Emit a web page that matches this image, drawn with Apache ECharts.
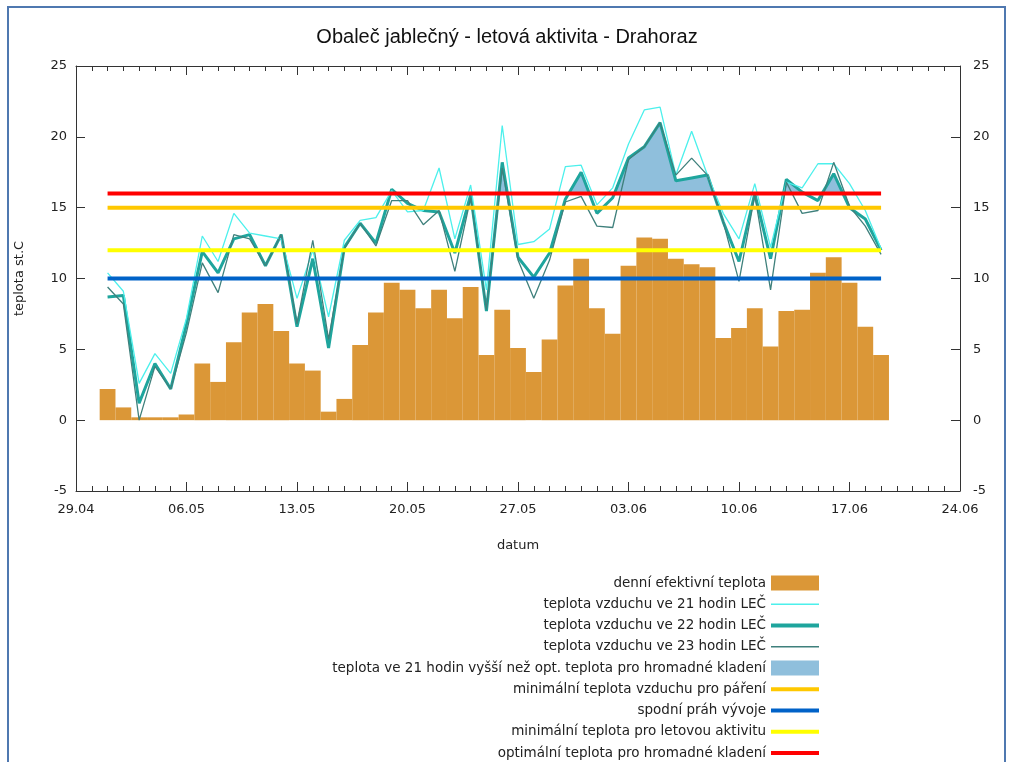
<!DOCTYPE html>
<html>
<head>
<meta charset="utf-8">
<title>Obaleč jablečný - letová aktivita - Drahoraz</title>
<script src="https://cdn.jsdelivr.net/npm/echarts@6/dist/echarts.min.js"></script>
<style>
  html, body { margin: 0; padding: 0; background: #fff; }
  #chart { width: 1014px; height: 762px; }
</style>
</head>
<body>
<div id="chart"></div>
<script>
// dny s měřením
const dates = [
  '01.05','02.05','03.05','04.05','05.05','06.05','07.05','08.05','09.05','10.05',
  '11.05','12.05','13.05','14.05','15.05','16.05','17.05','18.05','19.05','20.05',
  '21.05','22.05','23.05','24.05','25.05','26.05','27.05','28.05','29.05','30.05','31.05',
  '01.06','02.06','03.06','04.06','05.06','06.06','07.06','08.06','09.06','10.06',
  '11.06','12.06','13.06','14.06','15.06','16.06','17.06','18.06','19.06'
];
// popisky osy x (po 7 dnech od 29.04)
const xTickLabels = ['29.04','06.05','13.05','20.05','27.05','03.06','10.06','17.06','24.06'];

// denní efektivní teplota
const effTemp = [
  2.2, 0.9, 0.2, 0.2, 0.2, 0.4, 4.0, 2.7, 5.5, 7.6,
  8.2, 6.3, 4.0, 3.5, 0.6, 1.5, 5.3, 7.6, 9.7, 9.2,
  7.9, 9.2, 7.2, 9.4, 4.6, 7.8, 5.1, 3.4, 5.7, 9.5, 11.4,
  7.9, 6.1, 10.9, 12.9, 12.8, 11.4, 11.0, 10.8, 5.8, 6.5,
  7.9, 5.2, 7.7, 7.8, 10.4, 11.5, 9.7, 6.6, 4.6
];
// teplota vzduchu ve 21 h
const temp21 = [
  10.4, 9.1, 2.6, 4.7, 3.3, 7.2, 13.0, 11.2, 14.6, 13.2,
  13.0, 12.8, 8.6, 12.0, 7.3, 12.7, 14.1, 14.3, 16.2, 14.7,
  14.8, 17.8, 12.8, 16.6, 9.2, 20.8, 12.4, 12.6, 13.5, 17.9, 18.0,
  15.2, 16.4, 19.5, 21.9, 22.1, 17.3, 20.4, 17.3, 14.6, 12.8,
  16.7, 12.2, 16.8, 16.4, 18.1, 18.1, 16.7, 14.8, 12.1
];
// teplota vzduchu ve 22 h
const temp22 = [
  8.7, 8.8, 1.2, 4.0, 2.2, 6.8, 11.9, 10.4, 12.8, 13.1,
  10.9, 13.1, 6.6, 11.4, 5.1, 12.2, 13.9, 12.5, 16.3, 15.3,
  14.8, 14.7, 11.8, 15.9, 7.7, 18.2, 11.5, 10.1, 11.8, 15.6, 17.5,
  14.6, 15.7, 18.5, 19.3, 21.0, 16.9, 17.1, 17.3, 14.0, 11.2,
  16.0, 11.4, 17.0, 16.1, 15.5, 17.4, 15.0, 14.2, 12.0
];
// teplota vzduchu ve 23 h
const temp23 = [
  9.4, 8.2, 0.0, 3.8, 2.2, 6.2, 11.1, 9.0, 13.1, 12.8,
  10.9, 13.1, 6.8, 12.7, 5.7, 12.1, 13.9, 12.3, 15.5, 15.5,
  13.8, 14.8, 10.5, 15.7, 7.8, 17.8, 11.3, 8.6, 11.3, 15.4, 15.8,
  13.7, 13.6, 18.4, 19.3, 21.0, 17.3, 18.5, 17.3, 14.0, 9.8,
  15.9, 9.2, 16.8, 14.6, 14.8, 18.2, 15.1, 13.7, 11.7
];

// prahové teploty
const optLayingTemp = 16;   // optimální teplota pro hromadné kladení
const matingTemp = 15;      // minimální teplota vzduchu pro páření
const flightTemp = 12;      // minimální teplota pro letovou aktivitu
const devThreshold = 10;    // spodní práh vývoje

// den od 29.04
const dayOf = (s) => {
  const [d, m] = s.split('.').map(Number);
  if (m === 4) return d - 29;
  if (m === 5) return d + 1;
  return d + 32;
};
const xs = dates.map(dayOf);
const pairs = (vals) => vals.map((v, i) => [xs[i], v]);
const flat = (v) => [[xs[0], v], [xs[xs.length - 1], v]];

const FONT = 'DejaVu Sans';
const TXT = '#222';

const names = {
  eff: 'denní efektivní teplota',
  t21: 'teplota vzduchu ve 21 hodin LEČ',
  t22: 'teplota vzduchu ve 22 hodin LEČ',
  t23: 'teplota vzduchu ve 23 hodin LEČ',
  fill: 'teplota ve 21 hodin vyšší než opt. teplota pro hromadné kladení',
  mating: 'minimální teplota vzduchu pro páření',
  dev: 'spodní práh vývoje',
  flight: 'minimální teplota pro letovou aktivitu',
  opt: 'optimální teplota pro hromadné kladení'
};

const colors = {
  bar: '#db9737',
  t21: '#4cf0ec',
  t22: '#1ea59d',
  t23: '#3f807c',
  fill: '#8fbfdc',
  mating: '#ffc800',
  dev: '#0062c8',
  flight: '#ffff00',
  opt: '#ff0000'
};

// legenda – každá položka zvlášť, aby ikony byly zarovnané vpravo
// (ikona = obdélník, u čar s výškou podle tloušťky čáry)
const legendItems = [
  { name: names.eff, color: colors.bar, h: 15 },
  { name: names.t21, color: colors.t21, h: 1.5 },
  { name: names.t22, color: colors.t22, h: 4 },
  { name: names.t23, color: colors.t23, h: 1.5 },
  { name: names.fill, color: colors.fill, h: 15 },
  { name: names.mating, color: colors.mating, h: 4 },
  { name: names.dev, color: colors.dev, h: 4 },
  { name: names.flight, color: colors.flight, h: 4 },
  { name: names.opt, color: colors.opt, h: 4 }
];
const legends = legendItems.map((item, i) => ({
  data: [{ name: item.name, icon: 'rect', itemStyle: { color: item.color, borderWidth: 0 } }],
  orient: 'vertical',
  align: 'right',
  right: 195,
  top: 575 + i * 21.25,
  itemWidth: 48,
  itemHeight: item.h,
  padding: 0,
  selectedMode: false,
  textStyle: { fontFamily: FONT, fontSize: 13.5, lineHeight: 16, color: TXT }
}));

const axisLineStyle = { color: '#333', width: 1 };
const xAxisBase = {
  type: 'value',
  min: 0,
  max: 56,
  interval: 7,
  axisLine: { show: true, onZero: false, lineStyle: axisLineStyle },
  axisTick: { show: true, inside: true, length: 9, lineStyle: axisLineStyle },
  minorTick: { show: true, splitNumber: 7, length: 5, lineStyle: axisLineStyle },
  splitLine: { show: false }
};
const yAxisBase = {
  type: 'value',
  min: -5,
  max: 25,
  interval: 5,
  axisLine: { show: true, onZero: false, lineStyle: axisLineStyle },
  axisTick: { show: true, inside: true, length: 9, lineStyle: axisLineStyle },
  splitLine: { show: false },
  axisLabel: { fontFamily: FONT, fontSize: 13, color: TXT }
};

const chart = echarts.init(document.getElementById('chart'), null, { renderer: 'canvas' });

const option = {
  backgroundColor: '#fff',
  animation: false,
  title: {
    text: 'Obaleč jablečný - letová aktivita - Drahoraz',
    left: 'center',
    top: 22,
    textStyle: { fontFamily: 'Liberation Sans', fontSize: 20, fontWeight: 'normal', color: '#111' }
  },
  graphic: [{
    type: 'rect',
    shape: { x: 8, y: 7, width: 997, height: 770 },
    style: { fill: 'none', stroke: '#4f78b0', lineWidth: 2 },
    silent: true
  }],
  legend: legends,
  grid: { left: 76, right: 54, top: 66, bottom: 271 },
  xAxis: [
    Object.assign({}, xAxisBase, {
      position: 'bottom',
      name: 'datum',
      nameLocation: 'middle',
      nameGap: 48,
      nameTextStyle: { fontFamily: FONT, fontSize: 13, color: TXT },
      axisLabel: {
        fontFamily: FONT, fontSize: 13, color: TXT, margin: 12,
        showMinLabel: true, showMaxLabel: true,
        formatter: (v) => xTickLabels[Math.round(v / 7)] || ''
      }
    }),
    Object.assign({}, xAxisBase, {
      position: 'top',
      axisLabel: { show: false }
    })
  ],
  yAxis: [
    Object.assign({}, yAxisBase, {
      position: 'left',
      name: 'teplota st.C',
      nameLocation: 'middle',
      nameGap: 50,
      nameTextStyle: { fontFamily: FONT, fontSize: 13, color: TXT },
      axisLabel: Object.assign({}, yAxisBase.axisLabel, { margin: 9 })
    }),
    Object.assign({}, yAxisBase, {
      position: 'right',
      axisLabel: Object.assign({}, yAxisBase.axisLabel, { margin: 13 })
    })
  ],
  // výplň nad optimální teplotou – barva podle hodnoty na ose y
  visualMap: [{
    show: false,
    type: 'piecewise',
    seriesIndex: 1,
    dimension: 1,
    pieces: [
      { gte: -100, lte: optLayingTemp, color: 'rgba(143,191,220,0)' },
      { gt: optLayingTemp, lte: 100, color: colors.fill }
    ],
    outOfRange: { color: 'rgba(143,191,220,0)' }
  }],
  series: [
    {
      name: names.eff,
      type: 'bar',
      data: pairs(effTemp),
      barWidth: 15.8,
      itemStyle: { color: colors.bar },
      z: 1
    },
    {
      name: names.fill,
      type: 'line',
      data: pairs(temp22),
      symbol: 'none',
      color: colors.fill,
      lineStyle: { width: 0, color: colors.fill },
      areaStyle: { opacity: 1 },
      z: 2
    },
    {
      name: names.t22,
      type: 'line',
      data: pairs(temp22),
      symbol: 'none',
      color: colors.t22,
      lineStyle: { color: colors.t22, width: 3 },
      z: 3
    },
    {
      name: names.t21,
      type: 'line',
      data: pairs(temp21),
      symbol: 'none',
      color: colors.t21,
      lineStyle: { color: colors.t21, width: 1.3 },
      z: 4
    },
    {
      name: names.t23,
      type: 'line',
      data: pairs(temp23),
      symbol: 'none',
      color: colors.t23,
      lineStyle: { color: colors.t23, width: 1.3 },
      z: 4
    },
    {
      name: names.mating,
      type: 'line',
      data: flat(matingTemp),
      symbol: 'none',
      color: colors.mating,
      lineStyle: { color: colors.mating, width: 4 },
      z: 5
    },
    {
      name: names.dev,
      type: 'line',
      data: flat(devThreshold),
      symbol: 'none',
      color: colors.dev,
      lineStyle: { color: colors.dev, width: 4 },
      z: 5
    },
    {
      name: names.flight,
      type: 'line',
      data: flat(flightTemp),
      symbol: 'none',
      color: colors.flight,
      lineStyle: { color: colors.flight, width: 4 },
      z: 5
    },
    {
      name: names.opt,
      type: 'line',
      data: flat(optLayingTemp),
      symbol: 'none',
      color: colors.opt,
      lineStyle: { color: colors.opt, width: 4 },
      z: 5
    }
  ]
};

chart.setOption(option);
</script>
</body>
</html>
